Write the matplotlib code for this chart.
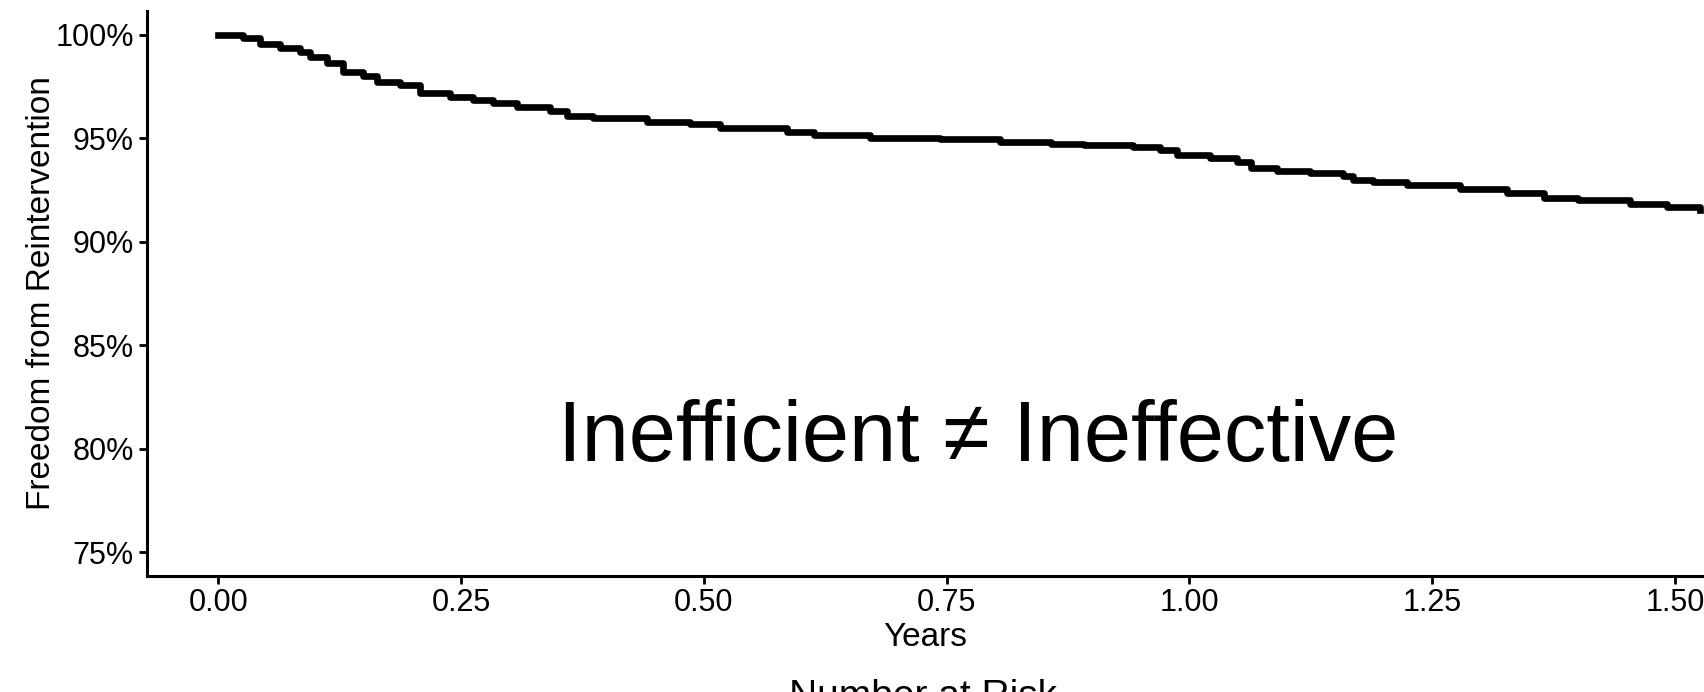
import matplotlib
matplotlib.use("Agg")
import matplotlib.pyplot as plt

plt.rcParams['font.family'] = ['Liberation Sans', 'DejaVu Sans']

# Kaplan-Meier step points (years, % free from reintervention)
years = [0.000, 0.025, 0.043, 0.063, 0.084, 0.094, 0.112, 0.128, 0.149, 0.163,
         0.187, 0.208, 0.239, 0.262, 0.283, 0.308, 0.342, 0.359, 0.386, 0.441,
         0.486, 0.517, 0.586, 0.613, 0.671, 0.743, 0.805, 0.857, 0.891, 0.942,
         0.970, 0.987, 1.021, 1.049, 1.063, 1.090, 1.124, 1.158, 1.169, 1.189,
         1.224, 1.279, 1.327, 1.365, 1.400, 1.454, 1.492, 1.526]
freedom = [100.0, 99.83, 99.56, 99.35, 99.18, 98.91, 98.65, 98.22, 98.00, 97.73,
           97.57, 97.17, 96.98, 96.85, 96.69, 96.50, 96.33, 96.09, 95.97, 95.80,
           95.69, 95.48, 95.32, 95.16, 95.00, 94.95, 94.84, 94.72, 94.67, 94.59,
           94.43, 94.19, 94.03, 93.87, 93.55, 93.43, 93.34, 93.18, 92.99, 92.90,
           92.74, 92.54, 92.34, 92.10, 92.02, 91.81, 91.70, 91.54]

x_ticks = [0.00, 0.25, 0.50, 0.75, 1.00, 1.25, 1.50]
y_ticks = [75, 80, 85, 90, 95, 100]

fig = plt.figure(figsize=(17.04, 6.92), dpi=100)
ax = fig.add_axes([0.0863, 0.1676, 0.9137, 0.8164])

ax.plot(years, freedom, drawstyle='steps-post', color='black', lw=4.8,
        solid_joinstyle='round')

ax.set_xlim(-0.0735, 1.530)
ax.set_ylim(73.86, 101.15)
ax.set_xticks(x_ticks)
ax.set_xticklabels([f"{v:.2f}" for v in x_ticks])
ax.set_yticks(y_ticks)
ax.set_yticklabels([f"{v}%" for v in y_ticks])

for s in ['top', 'right']:
    ax.spines[s].set_visible(False)
for s in ['left', 'bottom']:
    ax.spines[s].set_linewidth(2.2)
ax.tick_params(axis='both', length=5.5, width=2, labelsize=22, colors='black')
ax.tick_params(axis='y', pad=4)
ax.tick_params(axis='x', pad=3)

ax.set_xlabel("Years", fontsize=24)
ax.xaxis.set_label_coords(0.5, -0.081)
ax.set_ylabel("Freedom from Reintervention", fontsize=24)
ax.yaxis.set_label_coords(-0.058, 0.5)

ax.text(0.782, 79.4, "Inefficient \u2260 Ineffective", fontsize=61,
        ha='center', va='baseline')

fig.text(923 / 1704, 1 - 679 / 692, "Number at Risk", fontsize=28,
         ha='center', va='top')

fig.savefig("out.png", dpi=100)
